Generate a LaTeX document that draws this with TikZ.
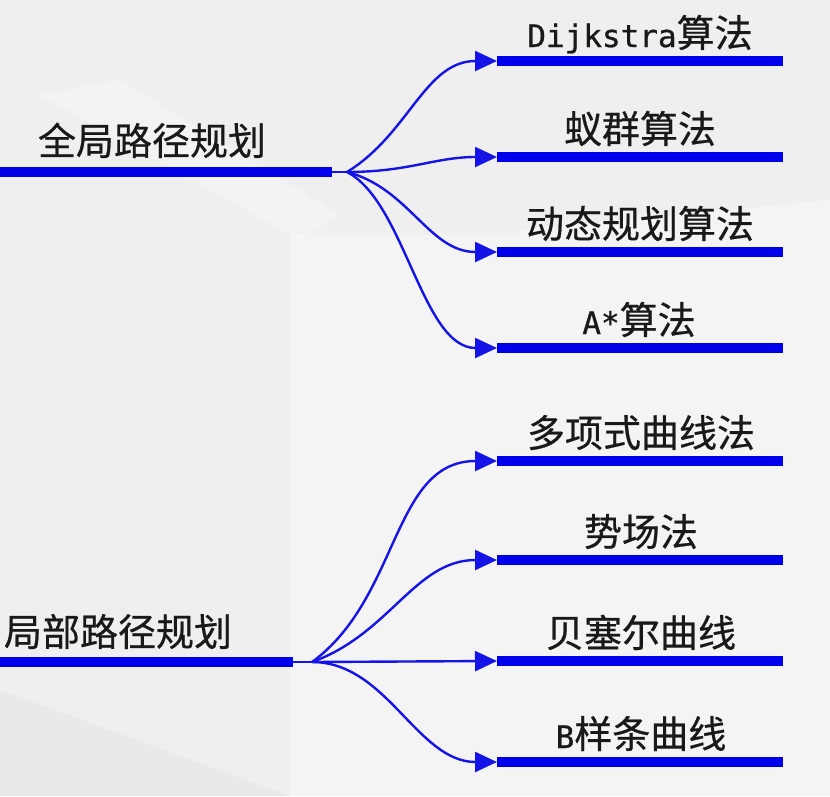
\documentclass[tikz,border=0pt]{standalone}
\usepackage{fontspec}
\setmainfont{Noto Sans CJK SC}[FakeBold=0.6,AutoFakeBold=0]
\newfontfamily\latmono{DejaVu Sans Mono}[FakeBold=0.8]
\usetikzlibrary{arrows.meta}
\definecolor{lineblue}{RGB}{0,0,235}
\definecolor{curveblue}{RGB}{20,20,230}
\definecolor{txt}{RGB}{25,25,25}
\definecolor{bgbase}{RGB}{239,239,240}
\definecolor{bgdark}{RGB}{233,233,235}
\definecolor{bglight}{RGB}{244,244,245}
\tikzset{
  bar/.style={line width=10pt, lineblue},
  branch/.style={line width=2.4pt, curveblue, -{Triangle[length=22pt,width=20pt]}},
  hubline/.style={line width=2.4pt, curveblue},
  lbl/.style={text=txt, font=\fontsize{38}{40}\selectfont, anchor=base, inner sep=0pt}
}
\begin{document}
\begin{tikzpicture}[x=1pt,y=-1pt]
\useasboundingbox (0,0) rectangle (830,796);
% background
\fill[bgbase] (0,0) rectangle (830,796);
\fill[bglight] (290,235) -- (520,235) -- (520,796) -- (290,796) -- cycle;
\fill[bglight] (520,230) -- (830,200) -- (830,796) -- (520,796) -- cycle;
\fill[white,opacity=0.3] (40,95) -- (120,80) -- (340,215) -- (300,240) -- cycle;
\fill[bgdark] (0,690) -- (290,796) -- (0,796) -- cycle;

% global planning
\coordinate (gs) at (0,172);
\coordinate (ge) at (332,172);
\coordinate (gh) at (347,172);
\draw[bar] (gs) -- (ge);
\draw[hubline] (ge) -- (gh);
\node[lbl] (g) at (152,155) {全局路径规划};

% local planning
\coordinate (ls) at (0,662);
\coordinate (le) at (293,662);
\coordinate (lh) at (312,662);
\draw[bar] (ls) -- (le);
\draw[hubline] (le) -- (lh);
\node[lbl] (l) at (118,646) {局部路径规划};

% right bars
\foreach \i/\y in {1/61,2/157,3/252,4/348,5/461,6/560,7/661,8/762}{
  \coordinate (b\i s) at (497,\y);
  \coordinate (b\i e) at (783,\y);
  \draw[bar] (b\i s) -- (b\i e);
}

% labels
\node[lbl] (r1) at (640,47) {{\fontsize{31}{40}\selectfont\latmono Dijkstra}算法};
\node[lbl] (r2) at (640,143) {蚁群算法};
\node[lbl] (r3) at (640,238) {动态规划算法};
\node[lbl] (r4) at (639,334) {{\fontsize{31}{40}\selectfont\latmono A*}算法};
\node[lbl] (r5) at (641,447) {多项式曲线法};
\node[lbl] (r6) at (641,546) {势场法};
\node[lbl] (r7) at (641,647) {贝塞尔曲线};
\node[lbl] (r8) at (641,748) {{\fontsize{31}{40}\selectfont\latmono B}样条曲线};

% top branches
\draw[branch] (gh) .. controls +(62,-38) and +(-72,0) .. (b1s);
\draw[branch] (gh) .. controls +(62,0) and +(-62,0) .. (b2s);
\draw[branch] (gh) .. controls +(62,16) and +(-68,0) .. (b3s);
\draw[branch] (gh) .. controls +(58,30) and +(-75,0) .. (b4s);

% bottom branches
\draw[branch] (lh) .. controls +(88,-64) and +(-105,0) .. (b5s);
\draw[branch] (lh) .. controls +(78,-28) and +(-82,0) .. (b6s);
\draw[branch] (lh) -- (b7s);
\draw[branch] (lh) .. controls +(75,0) and +(-80,0) .. (b8s);
\end{tikzpicture}
\end{document}
